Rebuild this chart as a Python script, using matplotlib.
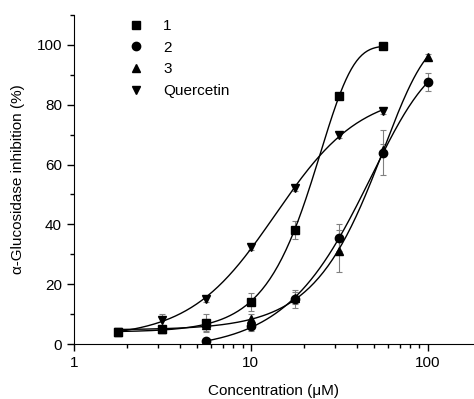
import numpy as np
import matplotlib
matplotlib.use("Agg")
import matplotlib.pyplot as plt
from matplotlib.ticker import LogLocator, MultipleLocator, NullFormatter, FixedLocator

plt.rcParams.update({
    "font.family": ["Liberation Sans", "DejaVu Sans"],
    "font.size": 11,
    "xtick.direction": "out",
    "ytick.direction": "out",
})

# concentrations (uM)
x1 = [1.78, 3.16, 5.62, 10.0, 17.8, 31.6, 56.2]
y1 = [4.0, 5.0, 7.0, 14.0, 38.0, 83.0, 99.5]
e1 = [1.0, 1.0, 3.0, 3.0, 3.0, 1.0, 1.0]

x2 = [5.62, 10.0, 17.8, 31.6, 56.2, 100.0]
y2 = [1.0, 6.0, 15.0, 35.5, 64.0, 87.5]
e2 = [0.5, 1.5, 3.0, 4.5, 7.5, 3.0]

x3 = [1.78, 3.16, 5.62, 10.0, 17.8, 31.6, 56.2, 100.0]
y3 = [4.0, 5.0, 6.5, 8.5, 15.5, 31.0, 65.0, 96.0]
e3 = [1.0, 1.0, 2.0, 1.5, 2.0, 7.0, 2.0, 1.0]

xq = [1.78, 3.16, 5.62, 10.0, 17.8, 31.6, 56.2]
yq = [4.0, 8.0, 15.0, 32.5, 52.0, 70.0, 78.0]
eq = [1.0, 2.0, 1.0, 1.0, 1.0, 1.0, 1.0]

labels = ["1", "2", "3", "Quercetin"]
markers = ["s", "o", "^", "v"]
msizes = [5.5, 6.0, 6.0, 6.0]


def dose_response_fit(x, y):
    """Asymmetric (5-par) logistic in log10(x). Grid over shape, closed-form plateaus."""
    t = np.log10(np.asarray(x, float))
    y = np.asarray(y, float)
    U = np.arange(-1.0, 4.0, 0.02)[:, None, None, None]
    N = np.arange(0.3, 10.0, 0.1)[None, :, None, None]
    Q = np.logspace(-1.5, 1.5, 31)[None, None, :, None]
    s = (1.0 + 10.0 ** np.clip(N * (t - U), -30, 30)) ** (-Q)
    sm = s.mean(-1, keepdims=True)
    ym = y.mean()
    var = ((s - sm) ** 2).sum(-1)
    b = ((s - sm) * (y - ym)).sum(-1) / np.where(var > 1e-12, var, np.inf)
    a = ym - b * sm[..., 0]
    r = ((y - a[..., None] - b[..., None] * s) ** 2).sum(-1)
    i, j, k = np.unravel_index(np.argmin(r), r.shape)
    u, n, q, a0, b0 = U[i, 0, 0, 0], N[0, j, 0, 0], Q[0, 0, k, 0], a[i, j, k], b[i, j, k]

    def f(xx):
        ss = (1.0 + 10.0 ** np.clip(n * (np.log10(xx) - u), -30, 30)) ** (-q)
        return a0 + b0 * ss
    return f


fig = plt.figure(figsize=(4.74, 3.99), dpi=100)
ax = fig.add_axes([0.1555, 0.1378, 0.8445, 0.8246])

series = [(x1, y1, e1), (x2, y2, e2), (x3, y3, e3), (xq, yq, eq)]
for (x, y, e), m, ms, lab in zip(series, markers, msizes, labels):
    f = dose_response_fit(x, y)
    xx = np.logspace(np.log10(x[0]), np.log10(x[-1]), 200)
    ax.plot(xx, f(xx), color="black", lw=1.0, zorder=2)
    ax.errorbar(x, y, yerr=e, fmt="none", ecolor="#808080", elinewidth=0.8,
                capsize=2.5, capthick=0.8, zorder=1)
    ax.plot(x, y, ls="none", marker=m, ms=ms, color="black", label=lab, zorder=3)

ax.set_xscale("log")
ax.set_xlim(1, 183)
ax.set_ylim(0, 110)
ax.xaxis.set_major_locator(FixedLocator([1, 10, 100]))
ax.set_xticklabels(["1", "10", "100"])
ax.xaxis.set_minor_locator(LogLocator(base=10, subs=np.arange(2, 10)))
ax.xaxis.set_minor_formatter(NullFormatter())
ax.yaxis.set_major_locator(FixedLocator([0, 20, 40, 60, 80, 100]))
ax.yaxis.set_minor_locator(MultipleLocator(10))

for s in ["top", "right"]:
    ax.spines[s].set_visible(False)
ax.tick_params(which="major", length=5, width=1)
ax.tick_params(which="minor", length=3, width=1)

ax.set_xlabel("Concentration (μM)", labelpad=10)
ax.set_ylabel("α-Glucosidase inhibition (%)", labelpad=8)

ax.legend(loc="upper left", bbox_to_anchor=(0.09, 1.02), frameon=False,
          handletextpad=0.8, labelspacing=0.5, borderaxespad=0.3)

fig.savefig("out.png", dpi=100)
